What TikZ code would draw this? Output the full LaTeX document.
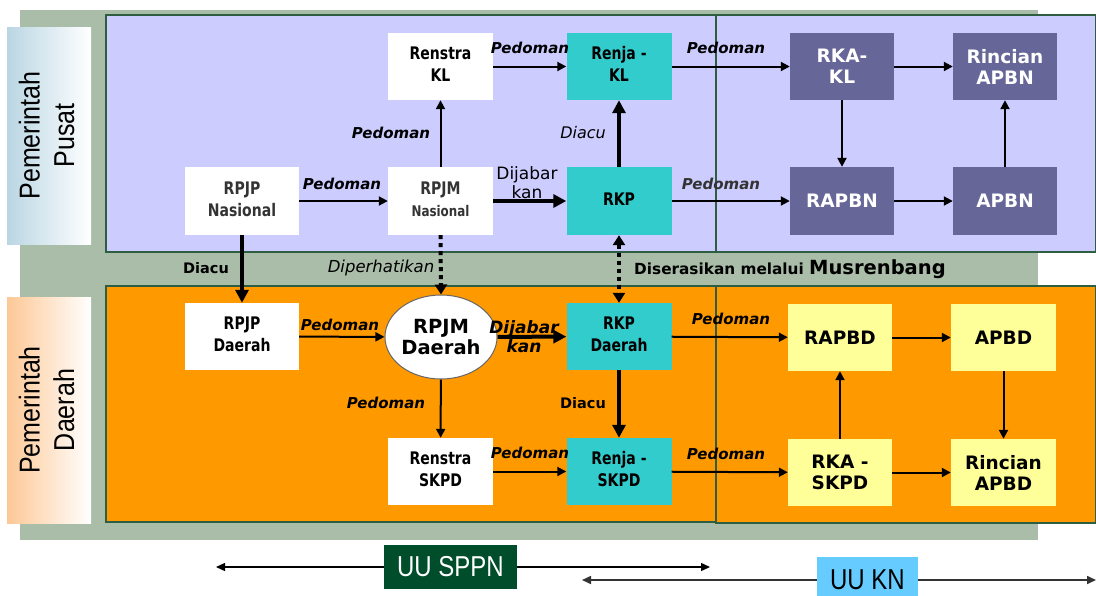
\documentclass[tikz,border=0pt]{standalone}
\usepackage{graphicx}
\usepackage{fontspec}
\setmainfont{DejaVu Sans}
\newfontfamily\lib{Liberation Sans}
\newfontfamily\dv{DejaVu Sans}
\usetikzlibrary{arrows.meta,shapes.geometric}
\definecolor{sage}{HTML}{A9BDA8}
\definecolor{lilac}{HTML}{CCCCFF}
\definecolor{orng}{HTML}{FF9900}
\definecolor{edge}{HTML}{2D5E42}
\definecolor{cyanbox}{HTML}{33CCCC}
\definecolor{slate}{HTML}{666699}
\definecolor{lightyel}{HTML}{FFFF99}
\definecolor{sppn}{HTML}{004D2B}
\definecolor{kn}{HTML}{66CCFF}
\definecolor{pusatL}{HTML}{BAD6E3}
\definecolor{daerahL}{HTML}{FDC896}
\definecolor{dgray}{HTML}{333333}
\newcommand\vs[3]{\scalebox{#1}[#2]{\begin{tabular}{@{}c@{}}#3\end{tabular}}}
\newcommand\tb[1]{\vs{0.85}{1.05}{#1}}
\begin{document}
\begin{tikzpicture}[x=1pt,y=-1pt,
  region/.style={draw=edge,line width=1.4pt},
  tbox/.style={minimum width=105,minimum height=67,inner sep=0pt,align=center,
    font=\dv\bfseries\fontsize{16.5}{21}\selectfont},
  vbox/.style={minimum width=105,minimum height=67,inner sep=0pt,align=center,
    font=\dv\bfseries\fontsize{18.5}{21}\selectfont},
  whitebox/.style={tbox,fill=white},
  cyanb/.style={tbox,fill=cyanbox},
  slateb/.style={vbox,fill=slate,text=white},
  yelb/.style={vbox,fill=lightyel},
  arr/.style={line width=2pt,-{Triangle[length=9pt,width=9pt]}},
  thickarr/.style={line width=4pt,-{Triangle[length=13pt,width=13pt]}},
  dotline/.style={line width=4pt,dash pattern=on 4pt off 4pt},
  ped/.style={font=\dv\bfseries\itshape\fontsize{15}{18}\selectfont,inner sep=0pt},
  lbl/.style={font=\dv\bfseries\fontsize{14.5}{17}\selectfont,inner sep=0pt},
  slbl/.style={font=\dv\itshape\fontsize{16.5}{18}\selectfont,inner sep=0pt},
  sidelbl/.style={rotate=90,inner sep=0pt,font=\lib\fontsize{25}{30}\selectfont},
  baseln/.style={line width=1.3pt,-{Triangle[length=9pt,width=8pt]}}
]
\useasboundingbox (0,0) rectangle (1096,595);
\fill[white] (0,0) rectangle (1096,595);
\fill[sage] (20,10) rectangle (1038,540);
% side labels
\shade[left color=pusatL,right color=white] (7,27) rectangle (91,244);
\shade[left color=daerahL,right color=white] (7,297) rectangle (91,523);
\node[sidelbl] (pusat) at (50,135.5) {\vs{1}{1.15}{Pemerintah\\Pusat}};
\node[sidelbl] (daerah) at (50,410) {\vs{1}{1.15}{Pemerintah\\Daerah}};
% regions
\filldraw[region,fill=lilac] (106,15) rectangle (716,252);
\filldraw[region,fill=lilac] (716,15) rectangle (1095.3,252);
\filldraw[region,fill=orng] (106,286) rectangle (716,522);
\filldraw[region,fill=orng] (716,286) rectangle (1095.3,523);
% top nodes
\node[whitebox] (renstrakl) at (440.5,66.5) {\tb{Renstra\\KL}};
\node[cyanb] (renjakl) at (619,66.5) {\tb{Renja -\\KL}};
\node[slateb,minimum width=104] (rkakl) at (842,66.5) {RKA-\\KL};
\node[slateb,minimum width=104] (rincianapbn) at (1005,66.5) {Rincian\\APBN};
\node[whitebox,minimum width=114,minimum height=68,text=dgray] (rpjpn) at (242,201) {\tb{RPJP\\Nasional}};
\node[whitebox,minimum height=68,text=dgray] (rpjmn) at (440.5,201) {\tb{RPJM\\{\fontsize{14}{18}\selectfont Nasional}}};
\node[cyanb,minimum height=68] (rkp) at (619,201) {\tb{RKP}};
\node[slateb,minimum width=104,minimum height=68] (rapbn) at (842,201) {RAPBN};
\node[slateb,minimum width=104,minimum height=68] (apbn) at (1005,201) {APBN};
% bottom nodes
\node[whitebox,minimum width=114] (rpjpd) at (242,336.5) {\tb{RPJP\\Daerah}};
\node[ellipse,draw=black!60,line width=1pt,fill=white,minimum width=110,minimum height=84,inner sep=0pt,align=center,
  font=\dv\bfseries\fontsize{19.5}{21}\selectfont] (rpjmd) at (441,337) {RPJM\\Daerah};
\node[cyanb] (rkpd) at (619,336.5) {\tb{RKP\\Daerah}};
\node[yelb,minimum width=104] (rapbd) at (840,337.5) {RAPBD};
\node[yelb] (apbd) at (1003.5,337.5) {APBD};
\node[whitebox] (renstraskpd) at (440.5,471.5) {\tb{Renstra\\SKPD}};
\node[cyanb] (renjaskpd) at (619,471.5) {\tb{Renja -\\SKPD}};
\node[yelb,minimum width=104] (rkaskpd) at (840,472.5) {RKA -\\SKPD};
\node[yelb] (rincianapbd) at (1003.5,472.5) {Rincian\\APBD};
% connectors top
\draw[arr] (rpjpn) -- (rpjmn);
\draw[arr] (rpjmn) -- (renstrakl);
\draw[arr] (renstrakl) -- (renjakl);
\draw[thickarr] (rpjmn) -- (rkp);
\draw[thickarr] (rkp) -- (renjakl);
\draw[arr] (renjakl) -- (rkakl);
\draw[arr] (rkp) -- (rapbn);
\draw[arr] (rkakl) -- (rincianapbn);
\draw[arr] (rkakl) -- (rapbn);
\draw[arr] (rapbn) -- (apbn);
\draw[arr] (apbn) -- (rincianapbn);
% connectors between levels
\draw[thickarr] (rpjpn) -- (rpjpd);
\draw[dotline,-{Triangle[length=10pt,width=12pt]}] (rpjmn.south) -- (rpjmd.north);
\draw[dotline,{Triangle[length=10pt,width=12pt]}-{Triangle[length=10pt,width=12pt]}] (rkp) -- (rkpd);
% connectors bottom
\draw[arr] (rpjpd) -- (rpjmd);
\draw[thickarr] (rpjmd) -- (rkpd);
\draw[arr] (rpjmd) -- (renstraskpd);
\draw[thickarr] (rkpd) -- (renjaskpd);
\draw[arr] (renstraskpd) -- (renjaskpd);
\draw[arr] (rkpd) -- (rapbd);
\draw[arr] (renjaskpd) -- (rkaskpd);
\draw[arr] (rkaskpd) -- (rapbd);
\draw[arr] (rapbd) -- (apbd);
\draw[arr] (apbd) -- (rincianapbd);
\draw[arr] (rkaskpd) -- (rincianapbd);
% labels
\node[ped] (l1) at (342,184) {Pedoman};
\node[ped] (l2) at (391,133) {Pedoman};
\node[ped] (l3) at (530,48) {Pedoman};
\node[ped] (l4) at (726,48) {Pedoman};
\node[ped,text=dgray] (l5) at (721,184) {Pedoman};
\node[font=\dv\fontsize{17}{19}\selectfont,inner sep=0pt,align=center] (l6) at (527,183) {Dijabar\\kan};
\node[slbl,font=\dv\itshape\fontsize{16}{18}\selectfont] (l7) at (583,133) {Diacu};
\node[lbl] (l8) at (206,268) {Diacu};
\node[slbl] (l9) at (381,268) {Diperhatikan};
\node[anchor=west,inner sep=0pt] (l10) at (634,269) {{\dv\bfseries\fontsize{15.3}{18}\selectfont Diserasikan melalui }{\dv\bfseries\fontsize{19.5}{20}\selectfont Musrenbang}};
\node[ped] (l11) at (340,325) {Pedoman};
\node[font=\dv\bfseries\itshape\fontsize{17}{19}\selectfont,inner sep=0pt,align=center] (l12) at (524,337) {Dijabar\\kan};
\node[ped] (l13) at (386,403) {Pedoman};
\node[lbl] (l14) at (583,403) {Diacu};
\node[ped] (l15) at (530,453) {Pedoman};
\node[ped] (l16) at (731,319) {Pedoman};
\node[ped] (l17) at (726,454) {Pedoman};
% law bars
\node[fill=sppn,text=white,minimum width=133,minimum height=44,inner sep=0pt,
  font=\lib\fontsize{24}{24}\selectfont] (uusppn) at (450.5,567) {\scalebox{1}[1.2]{UU SPPN}};
\node[fill=kn,text=black,minimum width=101,minimum height=46,inner sep=0pt,
  font=\lib\fontsize{24}{24}\selectfont] (uukn) at (867.5,580) {\scalebox{1}[1.2]{UU KN}};
\coordinate (sppnL) at (216,567);
\coordinate (sppnR) at (710,567);
\coordinate (knL) at (582,580);
\coordinate (knR) at (1096,580);
\draw[baseln] (uusppn.west) -- (sppnL);
\draw[baseln] (uusppn.east) -- (sppnR);
\draw[baseln,draw=dgray,line width=1.6pt] (uukn.west) -- (knL);
\draw[baseln,draw=dgray,line width=1.6pt] (uukn.east) -- (knR);
\end{tikzpicture}
\end{document}
